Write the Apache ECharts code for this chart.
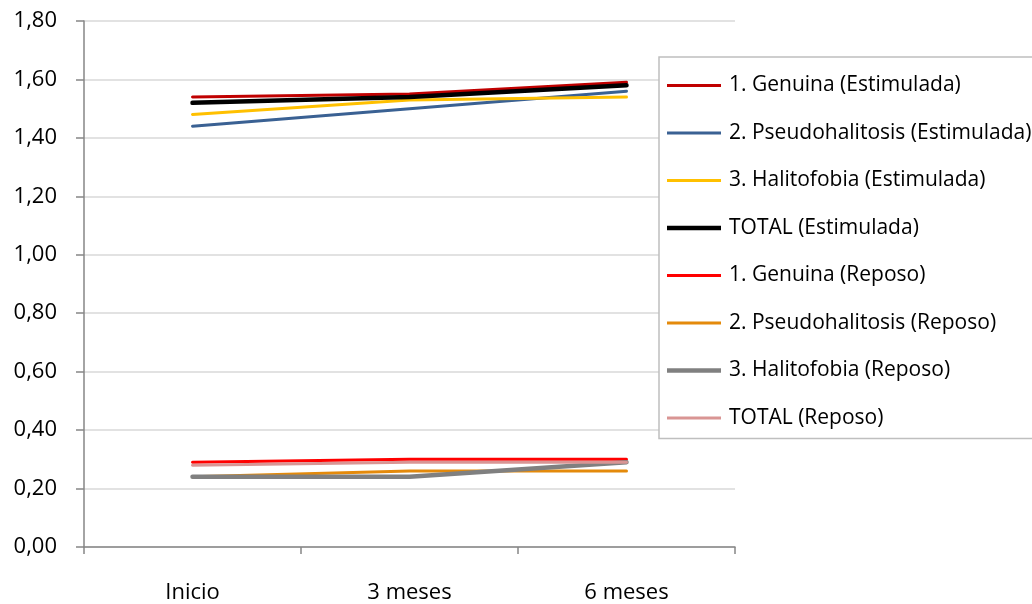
<!DOCTYPE html>
<html>
<head>
<meta charset="utf-8">
<script src="https://cdn.jsdelivr.net/npm/echarts@6/dist/echarts.min.js"></script>
<style>
  html, body { margin: 0; padding: 0; background: #fff; }
  #chart { width: 1032px; height: 604px; }
</style>
</head>
<body>
<div id="chart"></div>
<script>
// Time points
const categories = ['Inicio', '3 meses', '6 meses'];

// Estimulada
const genuinaEst = [1.54, 1.55, 1.59];
const pseudoEst = [1.44, 1.50, 1.56];
const halitoEst = [1.48, 1.53, 1.54];
const totalEst = [1.52, 1.54, 1.58];

// Reposo
const genuinaRep = [0.29, 0.30, 0.30];
const pseudoRep = [0.24, 0.26, 0.26];
const halitoRep = [0.24, 0.24, 0.29];
const totalRep = [0.28, 0.29, 0.29];

const seriesDefs = [
  { name: '1. Genuina (Estimulada)', data: genuinaEst, color: '#C00000', width: 3 },
  { name: '2. Pseudohalitosis (Estimulada)', data: pseudoEst, color: '#3A6193', width: 3 },
  { name: '3. Halitofobia (Estimulada)', data: halitoEst, color: '#FFC000', width: 3 },
  { name: 'TOTAL (Estimulada)', data: totalEst, color: '#000000', width: 4.5 },
  { name: '1. Genuina (Reposo)', data: genuinaRep, color: '#FF0000', width: 3 },
  { name: '2. Pseudohalitosis (Reposo)', data: pseudoRep, color: '#E48A0B', width: 3 },
  { name: '3. Halitofobia (Reposo)', data: halitoRep, color: '#808080', width: 4.5 },
  { name: 'TOTAL (Reposo)', data: totalRep, color: '#D99594', width: 3 }
];

const FONT = 'Open Sans';

// legend swatch: a flat bar as thick as the series line
const swatch = w => `path://M0,0 L54,0 L54,${w} L0,${w} Z`;

const chart = echarts.init(document.getElementById('chart'), null, { renderer: 'canvas' });
chart.setOption({
  animation: false,
  backgroundColor: '#fff',
  grid: { left: 84, right: 297, top: 21, bottom: 57, containLabel: false },
  legend: {
    orient: 'vertical',
    left: 659,
    top: 57,
    padding: [18, 12, 10, 8],
    itemGap: 26.5,
    itemWidth: 54,
    itemHeight: 21,
    borderColor: '#BFBFBF',
    borderWidth: 1.5,
    backgroundColor: '#fff',
    textStyle: { fontFamily: FONT, fontSize: 21, color: '#000', padding: [0, 0, 0, 3] },
    data: seriesDefs.map(s => ({
      name: s.name,
      icon: swatch(s.width),
      itemStyle: { color: s.color, borderWidth: 0 }
    }))
  },
  xAxis: {
    type: 'category',
    data: categories,
    boundaryGap: true,
    axisLine: { lineStyle: { color: '#868686', width: 1.5 } },
    axisTick: { show: true, length: 7, lineStyle: { color: '#868686', width: 1.5 } },
    axisLabel: { fontFamily: FONT, fontSize: 22, color: '#000', margin: 35 },
    splitLine: { show: false }
  },
  yAxis: {
    type: 'value',
    min: 0,
    max: 1.8,
    interval: 0.2,
    axisLine: { show: true, lineStyle: { color: '#868686', width: 1.5 } },
    axisTick: { show: true, length: 8, lineStyle: { color: '#868686', width: 1.5 } },
    axisLabel: {
      fontFamily: FONT, fontSize: 22, color: '#000', margin: 27,
      formatter: v => v.toFixed(2).replace('.', ',')
    },
    splitLine: { lineStyle: { color: '#D9D9D9', width: 1.5 } }
  },
  series: seriesDefs.map(s => ({
    name: s.name,
    type: 'line',
    data: s.data,
    symbol: 'none',
    color: s.color,
    lineStyle: { color: s.color, width: s.width, cap: 'round' },
    itemStyle: { color: s.color }
  }))
});
</script>
</body>
</html>
